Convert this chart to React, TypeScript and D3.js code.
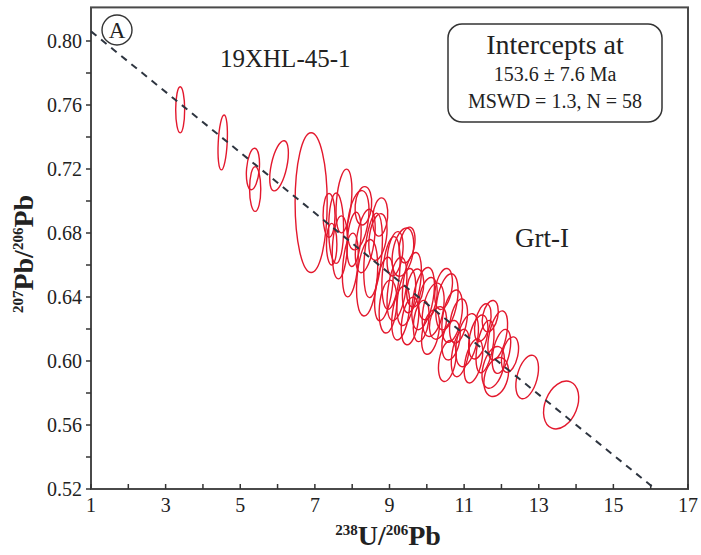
import { useEffect, useRef } from "react";
import * as d3 from "d3";

// x = 238U/206Pb, y = 207Pb/206Pb, ex/ey = half-axes in data units, rot = tilt (deg)
const isolated = [
  { x: 3.39, y: 0.757, ex: 0.12, ey: 0.0144, rot: 0 },
  { x: 4.53, y: 0.7366, ex: 0.12, ey: 0.0172, rot: 3 },
  { x: 5.34, y: 0.72, ex: 0.17, ey: 0.013, rot: 5 },
  { x: 5.4, y: 0.7075, ex: 0.15, ey: 0.014, rot: 0 },
  { x: 6.04, y: 0.722, ex: 0.21, ey: 0.016, rot: 12 },
  { x: 6.9, y: 0.699, ex: 0.43, ey: 0.0437, rot: 0 },
];

const cluster = [
  { x: 7.38, y: 0.691, ex: 0.16, ey: 0.0137, rot: 0 },
  { x: 7.78, y: 0.7, ex: 0.2, ey: 0.02, rot: 5 },
  { x: 7.57, y: 0.683, ex: 0.2, ey: 0.022, rot: 0 },
  { x: 7.67, y: 0.671, ex: 0.2, ey: 0.0197, rot: 3 },
  { x: 8.16, y: 0.688, ex: 0.27, ey: 0.0187, rot: 8 },
  { x: 8.69, y: 0.6775, ex: 0.23, ey: 0.0147, rot: 8 },
  { x: 8.4, y: 0.652, ex: 0.27, ey: 0.024, rot: 5 },
  { x: 9.04, y: 0.655, ex: 0.23, ey: 0.0228, rot: 5 },
  { x: 9.36, y: 0.668, ex: 0.27, ey: 0.0153, rot: 10 },
  { x: 8.56, y: 0.666, ex: 0.23, ey: 0.0265, rot: 5 },
  { x: 8.35, y: 0.675, ex: 0.24, ey: 0.02, rot: 8 },
  { x: 7.95, y: 0.66, ex: 0.2, ey: 0.02, rot: 5 },
  { x: 9.47, y: 0.6725, ex: 0.2, ey: 0.0113, rot: 10 },
  { x: 9.6, y: 0.649, ex: 0.23, ey: 0.019, rot: 8 },
  { x: 9.9, y: 0.639, ex: 0.27, ey: 0.0197, rot: 10 },
  { x: 10.03, y: 0.639, ex: 0.23, ey: 0.0134, rot: 10 },
  { x: 10.54, y: 0.637, ex: 0.27, ey: 0.0178, rot: 10 },
  { x: 10.68, y: 0.628, ex: 0.25, ey: 0.0166, rot: 10 },
  { x: 10.65, y: 0.613, ex: 0.23, ey: 0.0125, rot: 10 },
  { x: 11.08, y: 0.613, ex: 0.27, ey: 0.0169, rot: 12 },
  { x: 11.38, y: 0.615, ex: 0.23, ey: 0.014, rot: 12 },
  { x: 11.56, y: 0.609, ex: 0.21, ey: 0.0166, rot: 10 },
  { x: 11.9, y: 0.616, ex: 0.23, ey: 0.0156, rot: 12 },
  { x: 11.78, y: 0.596, ex: 0.27, ey: 0.0134, rot: 15 },
  { x: 10.17, y: 0.632, ex: 0.27, ey: 0.0169, rot: 10 },
  { x: 9.69, y: 0.6456, ex: 0.22, ey: 0.012, rot: 8 },
  { x: 10.3, y: 0.6238, ex: 0.22, ey: 0.0103, rot: 10 },
  { x: 11.86, y: 0.59, ex: 0.31, ey: 0.0125, rot: 15 },
  { x: 12.23, y: 0.604, ex: 0.21, ey: 0.0113, rot: 12 },
  { x: 12.69, y: 0.59, ex: 0.27, ey: 0.014, rot: 15 },
  { x: 13.6, y: 0.5725, ex: 0.43, ey: 0.0156, rot: 22 },
  { x: 8.05, y: 0.676, ex: 0.18, ey: 0.017, rot: 5 },
  { x: 8.85, y: 0.645, ex: 0.22, ey: 0.02, rot: 8 },
  { x: 9.2, y: 0.645, ex: 0.24, ey: 0.02, rot: 8 },
  { x: 9.3, y: 0.63, ex: 0.22, ey: 0.017, rot: 8 },
  { x: 8.96, y: 0.634, ex: 0.23, ey: 0.0166, rot: 5 },
  { x: 9.45, y: 0.64, ex: 0.23, ey: 0.018, rot: 8 },
  { x: 9.55, y: 0.625, ex: 0.22, ey: 0.015, rot: 8 },
  { x: 10.1, y: 0.618, ex: 0.22, ey: 0.014, rot: 10 },
  { x: 10.45, y: 0.645, ex: 0.22, ey: 0.013, rot: 10 },
  { x: 10.85, y: 0.625, ex: 0.22, ey: 0.014, rot: 10 },
  { x: 10.9, y: 0.605, ex: 0.22, ey: 0.015, rot: 10 },
  { x: 11.25, y: 0.6, ex: 0.22, ey: 0.014, rot: 12 },
  { x: 11.5, y: 0.624, ex: 0.2, ey: 0.012, rot: 12 },
  { x: 12.0, y: 0.606, ex: 0.22, ey: 0.014, rot: 12 },
  { x: 9.15, y: 0.667, ex: 0.2, ey: 0.014, rot: 8 },
  { x: 8.75, y: 0.69, ex: 0.2, ey: 0.012, rot: 5 },
  { x: 7.45, y: 0.673, ex: 0.14, ey: 0.013, rot: 0 },
  { x: 9.85, y: 0.625, ex: 0.2, ey: 0.013, rot: 8 },
  { x: 10.55, y: 0.6, ex: 0.22, ey: 0.013, rot: 10 },
  { x: 8.3, y: 0.697, ex: 0.22, ey: 0.012, rot: 5 },
  { x: 11.7, y: 0.628, ex: 0.2, ey: 0.01, rot: 12 },
];

// discordia line end points
const discordia = [
  { x: 1, y: 0.806 },
  { x: 16.12, y: 0.52 },
];

const xTicks = d3.range(1, 18, 1);
const xLabels = [1, 3, 5, 7, 9, 11, 13, 15, 17];
const yTicks = d3.range(0, 15).map(i => 0.52 + i * 0.02);
const yLabels = ["0.52", "0.56", "0.60", "0.64", "0.68", "0.72", "0.76", "0.80"];

const legendLines = ["Intercepts at", "153.6 \u00b1 7.6 Ma", "MSWD = 1.3, N = 58"];

export default function App() {
  const svgRef = useRef(null);
  const W = 701, H = 555;

  useEffect(() => {
    document.body.style.margin = "0";
    const svg = d3.select(svgRef.current);
    svg.selectAll("*").remove();

    const font = "'Liberation Serif', 'Times New Roman', serif";
    const x = d3.scaleLinear().domain([1, 17]).range([91, 688]);
    const y = d3.scaleLinear().domain([0.52, 0.8]).range([489, 41]);
    const top = y(0.821);

    svg.append("rect").attr("width", W).attr("height", H).attr("fill", "#fff");

    // frame
    svg.append("rect")
      .attr("x", x(1)).attr("y", top)
      .attr("width", x(17) - x(1)).attr("height", y(0.52) - top)
      .attr("fill", "none").attr("stroke", "#4a4a4a").attr("stroke-width", 2);

    // x ticks (inward)
    svg.selectAll(".xt").data(xTicks).enter().append("line")
      .attr("x1", d => x(d)).attr("x2", d => x(d))
      .attr("y1", y(0.52)).attr("y2", y(0.52) - 5)
      .attr("stroke", "#333").attr("stroke-width", 1.5);

    svg.selectAll(".xl").data(xLabels).enter().append("text")
      .attr("x", d => x(d)).attr("y", 512)
      .attr("text-anchor", "middle")
      .attr("font-family", font).attr("font-size", 20).attr("fill", "#222")
      .text(d => d);

    // y ticks (outward)
    svg.selectAll(".yt").data(yTicks).enter().append("line")
      .attr("x1", x(1) - 5).attr("x2", x(1))
      .attr("y1", d => y(d)).attr("y2", d => y(d))
      .attr("stroke", "#333").attr("stroke-width", 1.5);

    svg.selectAll(".yl").data(yLabels).enter().append("text")
      .attr("x", 82).attr("y", d => y(+d))
      .attr("dy", "0.35em")
      .attr("text-anchor", "end")
      .attr("font-family", font).attr("font-size", 20).attr("fill", "#222")
      .text(d => d);

    // error ellipses
    const ellipses = isolated.concat(cluster);
    svg.append("g").selectAll("ellipse").data(ellipses).enter().append("ellipse")
      .attr("cx", 0).attr("cy", 0)
      .attr("rx", d => x(d.x + d.ex) - x(d.x))
      .attr("ry", d => y(d.y) - y(d.y + d.ey))
      .attr("transform", d => `translate(${x(d.x)},${y(d.y)}) rotate(${d.rot})`)
      .attr("fill", "none")
      .attr("stroke", "#e3182d")
      .attr("stroke-width", 1.4);

    // discordia
    const line = d3.line().x(d => x(d.x)).y(d => y(d.y));
    svg.append("path")
      .attr("d", line(discordia))
      .attr("fill", "none")
      .attr("stroke", "#2e3540")
      .attr("stroke-width", 2)
      .attr("stroke-dasharray", "7,6");

    // panel letter
    svg.append("circle").attr("cx", 117).attr("cy", 30).attr("r", 15)
      .attr("fill", "#fff").attr("stroke", "#333").attr("stroke-width", 1.4);
    svg.append("text").attr("x", 117).attr("y", 38)
      .attr("text-anchor", "middle")
      .attr("font-family", font).attr("font-size", 23).attr("fill", "#222")
      .text("A");

    svg.append("text").attr("x", 220).attr("y", 67)
      .attr("font-family", font).attr("font-size", 25).attr("fill", "#222")
      .text("19XHL-45-1");

    svg.append("text").attr("x", 542).attr("y", 247)
      .attr("text-anchor", "middle")
      .attr("font-family", font).attr("font-size", 27).attr("fill", "#222")
      .text("Grt-I");

    // legend box
    svg.append("rect").attr("x", 448).attr("y", 24).attr("width", 214).attr("height", 98)
      .attr("rx", 14).attr("fill", "#fff").attr("stroke", "#333").attr("stroke-width", 1.5);
    const lsz = [28, 20, 20];
    const lby = [54, 81, 108];
    legendLines.forEach((t, i) => {
      svg.append("text").attr("x", 555).attr("y", lby[i])
        .attr("text-anchor", "middle")
        .attr("font-family", font).attr("font-size", lsz[i]).attr("fill", "#222")
        .text(t);
    });

    // axis titles
    const xt = svg.append("text").attr("x", 388).attr("y", 545)
      .attr("text-anchor", "middle")
      .attr("font-family", font).attr("font-weight", "bold").attr("font-size", 28).attr("fill", "#222");
    xt.append("tspan").attr("font-size", 15).attr("dy", -10).text("238");
    xt.append("tspan").attr("dy", 10).text("U/");
    xt.append("tspan").attr("font-size", 15).attr("dy", -10).text("206");
    xt.append("tspan").attr("dy", 10).text("Pb");

    const yt = svg.append("text")
      .attr("transform", "translate(33,254) rotate(-90)")
      .attr("text-anchor", "middle")
      .attr("font-family", font).attr("font-weight", "bold").attr("font-size", 28).attr("fill", "#222");
    yt.append("tspan").attr("font-size", 15).attr("dy", -10).text("207");
    yt.append("tspan").attr("dy", 10).text("Pb/");
    yt.append("tspan").attr("font-size", 15).attr("dy", -10).text("206");
    yt.append("tspan").attr("dy", 10).text("Pb");
  }, []);

  return <svg ref={svgRef} width={W} height={H} style={{ display: "block" }} />;
}
